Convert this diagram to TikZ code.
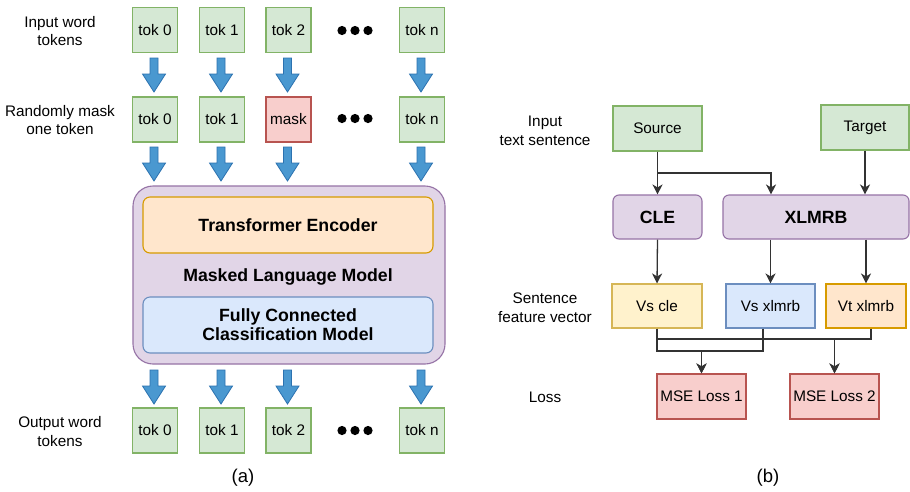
\documentclass[tikz,border=0pt]{standalone}
\usepackage{fontspec}
\setmainfont{Liberation Sans}
\usetikzlibrary{arrows.meta,calc}
\definecolor{gfill}{HTML}{D5E8D4}\definecolor{gline}{HTML}{82B366}
\definecolor{rfill}{HTML}{F8CECC}\definecolor{rline}{HTML}{B85450}
\definecolor{pfill}{HTML}{E1D5E7}\definecolor{pline}{HTML}{9673A6}
\definecolor{ofill}{HTML}{FFE6CC}\definecolor{oline}{HTML}{D79B00}
\definecolor{bfill}{HTML}{DAE8FC}\definecolor{bline}{HTML}{6C8EBF}
\definecolor{yfill}{HTML}{FFF2CC}\definecolor{yline}{HTML}{D6B656}
\definecolor{afill}{HTML}{4A98D0}\definecolor{aline}{HTML}{2C72B0}
\definecolor{conn}{HTML}{333333}
\newcommand{\regfont}{\fontsize{15.3}{18.5}\selectfont}
\newcommand{\boldfont}{\fontsize{17.7}{20}\selectfont\bfseries}
\tikzset{
  box/.style={draw, line width=1.1pt, inner sep=0pt, align=center, font=\regfont},
  tok/.style={box, fill=gfill, draw=gline, minimum width=45pt, minimum height=45pt},
  masktok/.style={box, fill=rfill, draw=rline, minimum width=45pt, minimum height=45pt},
  lbl/.style={align=center, font=\regfont, inner sep=0pt},
  connline/.style={draw=conn, line width=1.3pt, -{Stealth[length=10pt,width=10pt,inset=3pt]}},
  barrow/.pic={\draw[fill=afill, draw=aline, line width=0.8pt, line join=miter]
     (-4,0) -- (-4,16) -- (-11.5,16) -- (0,34) -- (11.5,16) -- (4,16) -- (4,0) -- cycle;},
  dots/.pic={\fill (-13,0) circle (4.6) (0,0) circle (4.6) (13,0) circle (4.6);}
}
\begin{document}
\begin{tikzpicture}[x=1pt,y=-1pt]
\useasboundingbox (0,0) rectangle (910,491);
\fill[white] (0,0) rectangle (910,491);
% ---------- panel (a)
\node[lbl] (l1) at (60,31) {Input word\\tokens};
\node[lbl] (l2) at (60,120) {Randomly mask\\one token};
\node[lbl] (l3) at (60,431.5) {Output word\\tokens};
\foreach \n/\x/\t in {0/155/tok 0,1/222/tok 1,2/288.5/tok 2,n/422/tok n}{
  \node[tok] (in\n) at (\x,30) {\t};
  \node[tok] (out\n) at (\x,430.5) {\t};
  \pic at (\x-1,58) {barrow};
  \pic at (\x-1,147) {barrow};
  \pic at (\x-1,370) {barrow};
}
\foreach \n/\x/\t in {0/155/tok 0,1/222/tok 1,n/422/tok n}{
  \node[tok] (m\n) at (\x,119.5) {\t};
}
\node[masktok] (m2) at (288.5,119.5) {mask};
\pic at (355,30.5) {dots};
\pic at (355,118.5) {dots};
\pic at (355,430.5) {dots};
\draw[fill=pfill, draw=pline, line width=1.1pt, rounded corners=20pt] (133,186) rectangle (445,364);
\node[box, fill=ofill, draw=oline, rounded corners=7pt, minimum width=290pt, minimum height=56pt, font=\boldfont] (te) at (288,225) {Transformer Encoder};
\node[lbl, font=\boldfont] (mlm) at (288,277) {Masked Language Model};
\node[box, fill=bfill, draw=bline, rounded corners=7pt, minimum width=290pt, minimum height=56pt, font=\boldfont] (fc) at (288,325) {Fully Connected\\[-1pt]Classification Model};
\node[lbl, font=\fontsize{18.5}{20}\selectfont] (capa) at (243,478) {(a)};
% ---------- panel (b)
\node[lbl] (lb1) at (545,131) {Input\\text sentence};
\node[lbl] (lb2) at (545,307.5) {Sentence\\feature vector};
\node[lbl] (lb3) at (545,397) {Loss};
\node[box, fill=gfill, draw=gline, minimum width=89pt, minimum height=45pt] (src) at (657.5,128.5) {Source};
\node[box, fill=gfill, draw=gline, minimum width=88pt, minimum height=45pt] (tgt) at (865,127.5) {Target};
\node[box, fill=pfill, draw=pline, rounded corners=6pt, minimum width=89pt, minimum height=44pt, font=\boldfont] (cle) at (657.5,217) {CLE};
\node[box, fill=pfill, draw=pline, rounded corners=6pt, minimum width=186pt, minimum height=44pt, font=\boldfont] (xlm) at (816,217) {XLMRB};
\node[box, fill=yfill, draw=yline, minimum width=90pt, minimum height=44pt] (vsc) at (657,306) {Vs cle};
\node[box, fill=bfill, draw=bline, minimum width=89pt, minimum height=44pt] (vsx) at (770.5,306) {Vs xlmrb};
\node[box, fill=ofill, draw=oline, minimum width=80pt, minimum height=44pt] (vtx) at (866,306) {Vt xlmrb};
\node[box, fill=rfill, draw=rline, minimum width=89pt, minimum height=45pt] (mse1) at (701.5,396.5) {MSE Loss 1};
\node[box, fill=rfill, draw=rline, minimum width=89pt, minimum height=45pt] (mse2) at (834.5,396.5) {MSE Loss 2};
\node[lbl, font=\fontsize{18.5}{20}\selectfont] (capb) at (768,478) {(b)};
\coordinate (sj) at (657.5,173);
\coordinate (j1) at (701.5,351);
\coordinate (j2) at (834.5,339);
\draw[connline] (src.south) -- (cle.north);
\draw[connline] (src.south) |- (sj) -| ([xshift=-45pt]xlm.north);
\draw[connline] (tgt.south) -- (tgt.south |- xlm.north);
\draw[connline] (cle.south) -- (vsc.north);
\draw[connline] (vsx.north |- xlm.south) -- (vsx.north);
\draw[connline] (vtx.north |- xlm.south) -- (vtx.north);
\draw[connline] (vsc.south) |- (j1) -- (mse1.north);
\draw[connline] ([xshift=-7.5pt]vsx.south) |- (j1) -- (mse1.north);
\draw[connline] (vsc.south) |- (j2) -- (mse2.north);
\draw[connline] ([xshift=5pt]vtx.south) |- (j2) -- (mse2.north);
\end{tikzpicture}
\end{document}
